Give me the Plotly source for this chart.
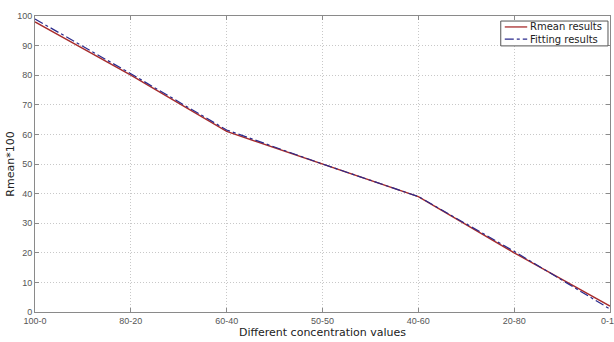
import plotly.graph_objects as go

categories = ["100-0", "80-20", "60-40", "50-50", "40-60", "20-80", "0-10"]
rmean = [98, 80, 61, 50, 39, 20, 2]
fitting = [99, 80.5, 61.5, 50, 39, 20.5, 1]
y_ticks = [0, 10, 20, 30, 40, 50, 60, 70, 80, 90, 100]
legend_names = ["Rmean results", "Fitting results"]

RED = "#a82c2c"
BLUE = "#2a2a8c"
x_idx = list(range(len(categories)))

fig = go.Figure()
fig.add_trace(go.Scatter(x=x_idx, y=rmean, mode="lines", name=legend_names[0],
                         line=dict(color=RED, width=1.4)))
fig.add_trace(go.Scatter(x=x_idx, y=fitting, mode="lines", name=legend_names[1],
                         line=dict(color=BLUE, width=1.2, dash="dashdot")))

axis_common = dict(
    showline=True, linecolor="#8a8a8a", linewidth=1, mirror="ticks",
    ticks="inside", ticklen=4, tickcolor="#8a8a8a",
    showgrid=True, gridcolor="#c8c8c8", griddash="1px,2px", gridwidth=1,
    zeroline=False, ticklabeloverflow="allow",
    tickfont=dict(family="Liberation Sans Narrow, Arial Narrow, sans-serif", size=9, color="#555555"),
)

# hand-drawn compact legend box (MATLAB style)
lx0, lx1, ly0, ly1 = 0.810, 0.9965, 0.899, 0.983
fig.add_shape(type="rect", xref="paper", yref="paper", x0=lx0, x1=lx1, y0=ly0, y1=ly1,
              line=dict(color="#555555", width=1), fillcolor="white", layer="above")
for name, color, dash, yy in [(legend_names[0], RED, "solid", 0.963),
                              (legend_names[1], BLUE, "dashdot", 0.922)]:
    fig.add_shape(type="line", xref="paper", yref="paper", x0=0.817, x1=0.856, y0=yy, y1=yy,
                  line=dict(color=color, width=1.3, dash=dash), layer="above")
    fig.add_annotation(xref="paper", yref="paper", x=0.857, y=yy, text=name, showarrow=False,
                       xanchor="left", yanchor="middle",
                       font=dict(family="DejaVu Sans, sans-serif", size=10, color="#222222"))

fig.update_layout(
    width=614, height=342,
    margin=dict(l=35, r=4, t=16, b=30),
    paper_bgcolor="white", plot_bgcolor="white",
    showlegend=False,
    xaxis=dict(range=[0, 6], tickvals=x_idx, ticktext=categories, automargin=False,
               title=dict(text="Different concentration values", standoff=3,
                          font=dict(family="DejaVu Sans, sans-serif", size=11, color="#222222")),
               **axis_common),
    yaxis=dict(range=[0, 100], tickvals=y_ticks, automargin=False,
               title=dict(text="Rmean*100", standoff=0,
                          font=dict(family="DejaVu Sans, sans-serif", size=11, color="#222222")),
               **axis_common),
)

fig.write_html("out.html", config={"displayModeBar": False},
               post_script="document.body.style.margin='0';document.body.style.overflow='hidden';")
